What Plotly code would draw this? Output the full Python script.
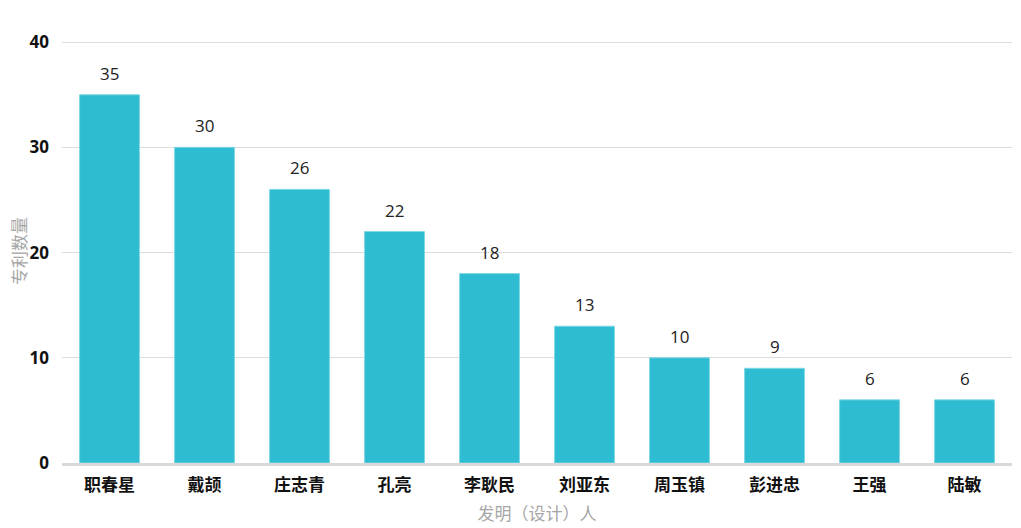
import plotly.graph_objects as go

inventors = ["职春星", "戴颉", "庄志青", "孔亮", "李耿民", "刘亚东", "周玉镇", "彭进忠", "王强", "陆敏"]
patents = [35, 30, 26, 22, 18, 13, 10, 9, 6, 6]
y_ticks = [0, 10, 20, 30, 40]

FONT = "Open Sans, Noto Sans CJK SC, sans-serif"

fig = go.Figure()
fig.add_trace(go.Bar(
    x=inventors,
    y=patents,
    marker=dict(color="#2dbcd1", line=dict(color="#7fd6e3", width=1)),
))

# value labels above bars
for name, val in zip(inventors, patents):
    fig.add_annotation(
        x=name, y=val, text=str(val), showarrow=False,
        yanchor="bottom", yshift=8,
        font=dict(size=17, color="#222222", family=FONT),
    )

# page has an 8px body margin, so the figure is a bit smaller than the window
fig.update_layout(
    width=1013,
    height=520,
    margin=dict(l=54, r=9, t=31, b=65, autoexpand=False),
    plot_bgcolor="white",
    paper_bgcolor="white",
    bargap=0.37,
    showlegend=False,
    font=dict(family=FONT),
)
fig.update_xaxes(
    title=dict(text="发明（设计）人", font=dict(size=17, color="#a6a6a6"), standoff=13),
    tickfont=dict(size=17, color="#111111", family="Noto Sans CJK SC", weight="bold"),
    ticklabelstandoff=5,
    showline=True, linecolor="#d9d9d9", linewidth=3,
    ticks="", showgrid=False,
)
fig.update_yaxes(
    title=dict(text="专利数量", font=dict(size=17, color="#a6a6a6"), standoff=10),
    range=[0, 40.3],
    tickvals=y_ticks,
    tickfont=dict(size=17, color="#111111", weight="bold"),
    ticklabelstandoff=12,
    gridcolor="#dcdcdc", gridwidth=1,
    zeroline=False, showline=False, ticks="",
)

fig.write_html("out.html")
